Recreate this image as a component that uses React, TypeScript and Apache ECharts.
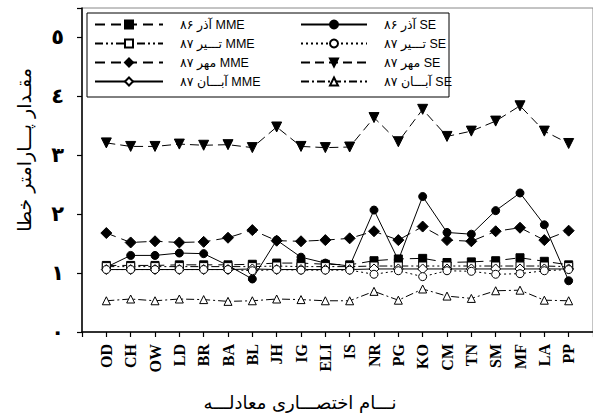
import React, { useEffect, useRef } from "react";
import * as echarts from "echarts";

const categories = ["OD", "CH", "OW", "LD", "BR", "BA", "BL", "JH", "IG", "ELI", "IS", "NR", "PG", "KO", "CM", "TN", "SM", "MF", "LA", "PP"];

const mmeAzar86 = [1.13, 1.13, 1.13, 1.14, 1.14, 1.14, 1.15, 1.17, 1.17, 1.15, 1.14, 1.21, 1.24, 1.25, 1.18, 1.19, 1.21, 1.26, 1.2, 1.14];
const mmeTir87 = [1.11, 1.11, 1.11, 1.11, 1.11, 1.11, 1.11, 1.12, 1.11, 1.11, 1.11, 1.12, 1.12, 1.12, 1.12, 1.12, 1.12, 1.12, 1.12, 1.11];
const mmeMehr87 = [1.68, 1.52, 1.54, 1.52, 1.53, 1.6, 1.73, 1.55, 1.54, 1.56, 1.59, 1.71, 1.56, 1.79, 1.56, 1.54, 1.71, 1.77, 1.56, 1.72];
const mmeAban87 = [1.06, 1.06, 1.06, 1.06, 1.06, 1.06, 1.07, 1.06, 1.06, 1.06, 1.06, 1.07, 1.07, 1.07, 1.07, 1.07, 1.07, 1.07, 1.07, 1.07];
const seAzar86 = [1.1, 1.3, 1.3, 1.34, 1.33, 1.13, 0.9, 1.56, 1.27, 1.17, 1.12, 2.07, 1.22, 2.3, 1.69, 1.66, 2.06, 2.36, 1.82, 0.87];
const seTir87 = [1.06, 1.06, 1.06, 1.06, 1.06, 1.06, 1.04, 1.06, 1.05, 1.05, 1.05, 0.98, 1.04, 0.94, 1.04, 1.03, 0.98, 0.99, 1.04, 1.06];
const seMehr87 = [3.21, 3.15, 3.15, 3.19, 3.17, 3.18, 3.13, 3.48, 3.15, 3.13, 3.14, 3.64, 3.23, 3.78, 3.32, 3.41, 3.58, 3.84, 3.41, 3.2];
const seAban87 = [0.53, 0.56, 0.53, 0.56, 0.55, 0.52, 0.53, 0.56, 0.55, 0.53, 0.53, 0.69, 0.54, 0.73, 0.61, 0.57, 0.7, 0.71, 0.54, 0.53];

const yTickLabels = ["٠", "١", "٢", "٣", "٤", "٥"];

const RLE = "\u202B";
const PDF = "\u202C";
const names = {
  mmeAzar86: RLE + "MME آذر ۸۶" + PDF,
  mmeTir87: RLE + "MME تـــیر ۸۷" + PDF,
  mmeMehr87: RLE + "MME مهر ۸۷" + PDF,
  mmeAban87: RLE + "MME آبـــان ۸۷" + PDF,
  seAzar86: RLE + "SE آذر ۸۶" + PDF,
  seTir87: RLE + "SE تـــیر ۸۷" + PDF,
  seMehr87: RLE + "SE مهر ۸۷" + PDF,
  seAban87: RLE + "SE آبـــان ۸۷" + PDF,
};

const yTitle = "مقـدار پـــارامتر خطا";
const xTitle = "نـــام اختصـــاری معادلـــه";

const toPoints = (arr: number[]) => arr.map((v, i) => [i + 1, v]);

export default function App() {
  const ref = useRef<HTMLDivElement>(null);
  useEffect(() => {
    if (!ref.current) return;
    const chart = echarts.init(ref.current, undefined, { renderer: "svg" });
    const filled = { color: "#000", borderColor: "#000", borderWidth: 1 };
    const open = { color: "#fff", borderColor: "#000", borderWidth: 1 };
    const mk = (name: string, data: number[], symbol: string, size: number, item: any, dash: any, extra: any = {}) => ({
      name,
      type: "line",
      data: toPoints(data),
      symbol,
      symbolSize: size,
      showAllSymbol: true,
      itemStyle: item,
      lineStyle: { color: "#000", width: 1, type: dash },
      emphasis: { disabled: true },
      ...extra,
    });
    const legendText = {
      fontSize: 12.5,
      fontFamily: "Liberation Sans, DejaVu Sans, sans-serif",
      color: "#000",
      padding: [0, 0, 0, 12],
    };
    chart.setOption({
      animation: false,
      grid: { left: 82, right: -2, top: 8, bottom: 84, show: true, borderColor: "#888", borderWidth: 1, backgroundColor: "transparent" },
      xAxis: {
        type: "value",
        min: 0,
        max: 21,
        interval: 1,
        splitLine: { show: false },
        axisLine: { lineStyle: { color: "#000", width: 1.5 } },
        axisTick: { length: 5, lineStyle: { color: "#000", width: 1.2 } },
        axisLabel: {
          rotate: 90,
          margin: 12,
          color: "#000",
          fontFamily: "Liberation Serif, serif",
          fontWeight: "bold",
          fontSize: 16,
          formatter: (v: number) => categories[v - 1] ?? "",
        },
      },
      yAxis: {
        type: "value",
        min: 0,
        max: 5.5,
        interval: 1,
        splitLine: { show: false },
        axisLine: { show: true, lineStyle: { color: "#000", width: 1.5 } },
        axisTick: { show: true, length: 5, lineStyle: { color: "#000", width: 1.2 } },
        axisLabel: {
          margin: 18,
          color: "#000",
          fontFamily: "DejaVu Sans, sans-serif",
          fontWeight: "bold",
          fontSize: 21,
          formatter: (v: number) => (Number.isInteger(v) ? yTickLabels[v] ?? "" : ""),
        },
      },
      legend: [
        {
          orient: "vertical",
          left: 94,
          top: 18,
          padding: 0,
          itemGap: 6,
          itemWidth: 68,
          itemHeight: 10,
          selectedMode: false,
          textStyle: legendText,
          data: [names.mmeAzar86, names.mmeTir87, names.mmeMehr87, names.mmeAban87],
        },
        {
          orient: "vertical",
          left: 300,
          top: 18,
          padding: 0,
          itemGap: 6,
          itemWidth: 66,
          itemHeight: 10,
          selectedMode: false,
          textStyle: legendText,
          data: [names.seAzar86, names.seTir87, names.seMehr87, names.seAban87],
        },
      ],
      graphic: [
        { type: "rect", shape: { x: 87, y: 13, width: 362, height: 84 }, style: { fill: "none", stroke: "#000", lineWidth: 1 }, z: 1 },
        {
          type: "text",
          x: 24,
          y: 150,
          rotation: Math.PI / 2,
          style: { text: yTitle, font: '19px "DejaVu Sans"', fill: "#000", textAlign: "center", textVerticalAlign: "middle" },
        },
        {
          type: "text",
          x: 300,
          y: 402,
          style: { text: xTitle, font: '18px "DejaVu Sans"', fill: "#000", textAlign: "center", textVerticalAlign: "middle" },
        },
      ],
      series: [
        mk(names.seMehr87, seMehr87, "triangle", 10, filled, [9, 5], { symbolRotate: 180 }),
        mk(names.mmeMehr87, mmeMehr87, "diamond", 11, filled, [10, 6]),
        mk(names.seAzar86, seAzar86, "circle", 8, filled, "solid"),
        mk(names.mmeAzar86, mmeAzar86, "rect", 8, filled, [10, 6]),
        mk(names.mmeTir87, mmeTir87, "rect", 8, open, [8, 3, 2, 3, 2, 3]),
        mk(names.mmeAban87, mmeAban87, "diamond", 10, open, "solid"),
        mk(names.seTir87, seTir87, "circle", 8, open, [2, 3]),
        mk(names.seAban87, seAban87, "triangle", 8, open, [8, 3, 2, 3]),
      ],
    });
    return () => chart.dispose();
  }, []);
  return <div ref={ref} style={{ width: 593, height: 416, position: "absolute", left: 0, top: 0 }} />;
}
